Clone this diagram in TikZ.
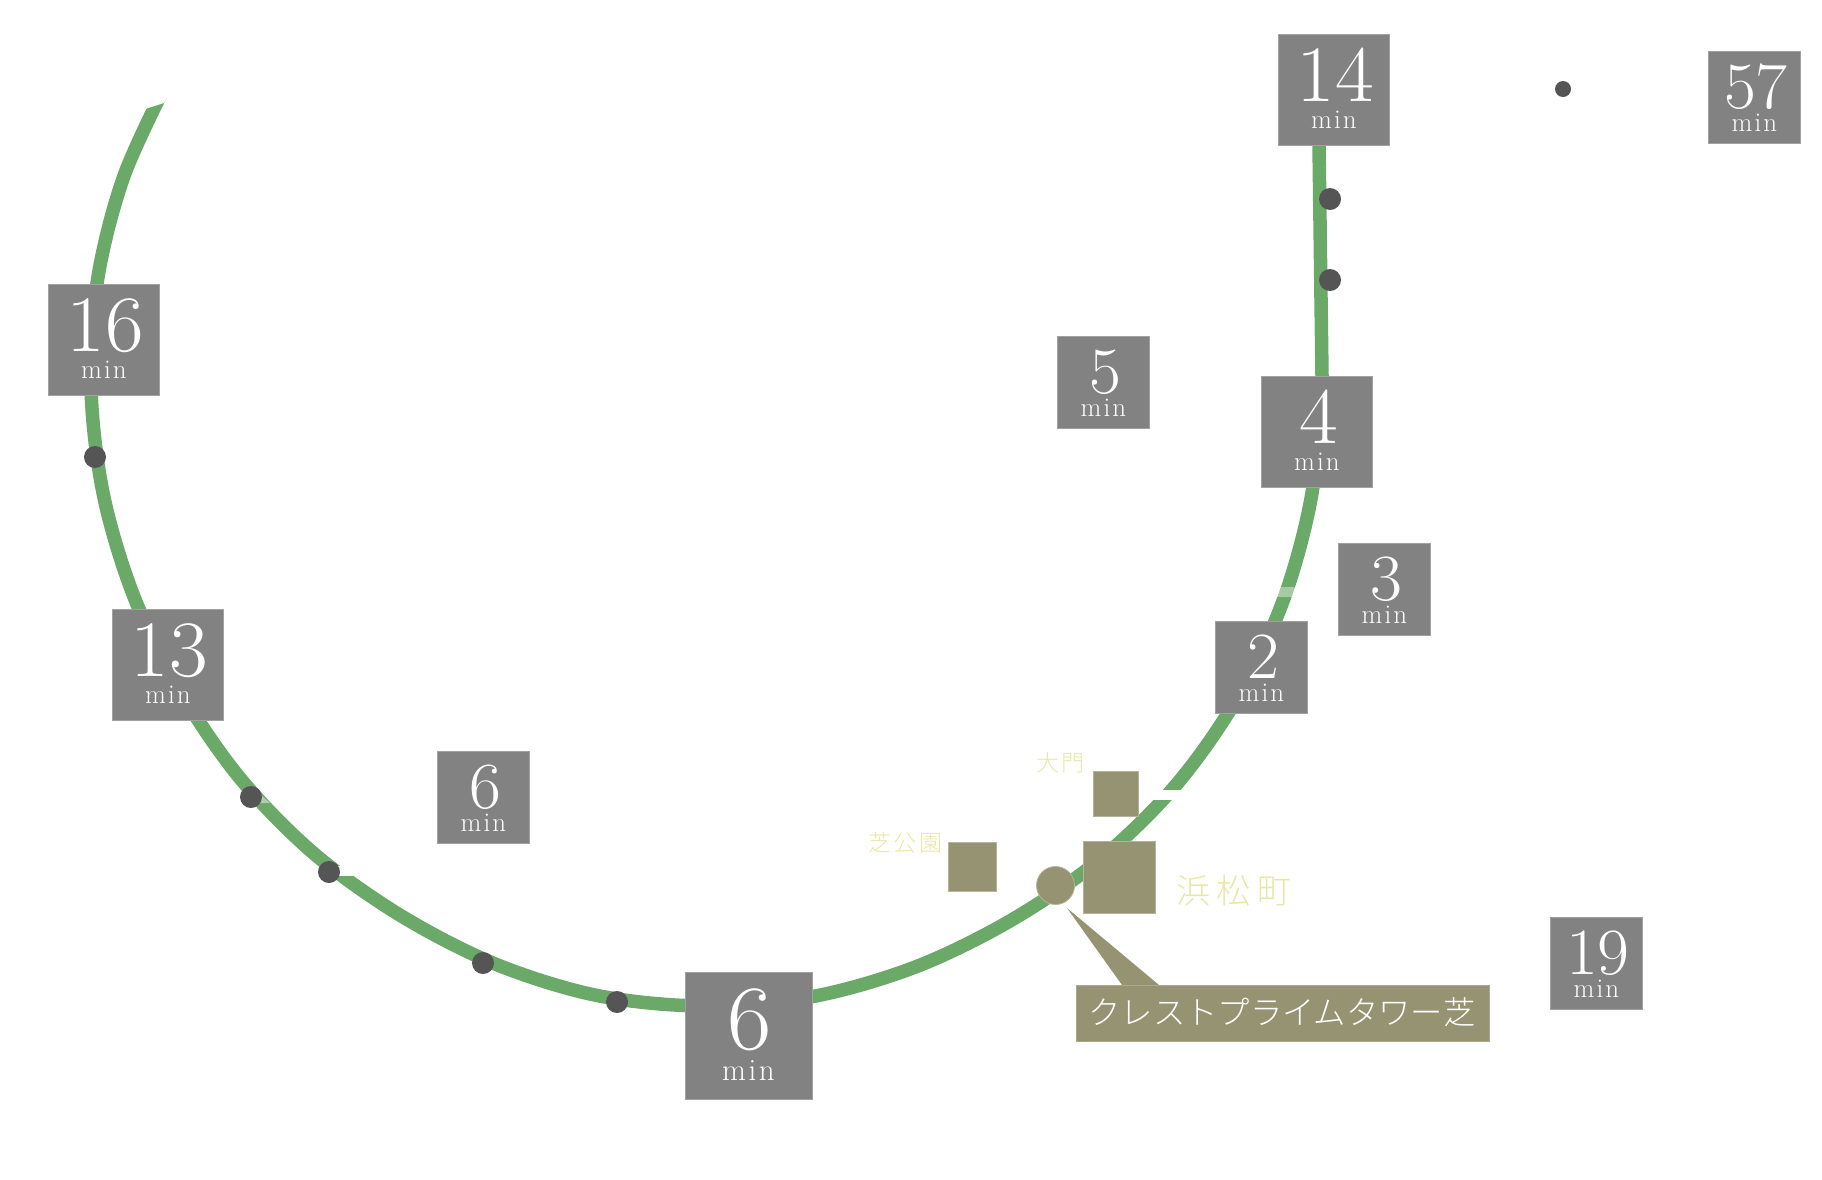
\documentclass[tikz,border=0pt]{standalone}
\usepackage{fontspec}
\setmainfont{Latin Modern Roman}
\newfontfamily\cjk{Noto Sans CJK JP Light}
\usetikzlibrary{calc}
\definecolor{linegreen}{HTML}{6AA968}
\definecolor{boxgrey}{HTML}{828282}
\definecolor{dotgrey}{HTML}{555555}
\definecolor{tan}{HTML}{959372}
\definecolor{paleyellow}{HTML}{E9E7A5}
\tikzset{
  railline/.style={draw=linegreen,line width=13.5pt},
  timebox/.style={fill=boxgrey,draw=boxgrey!75!white,line width=0.8pt,inner sep=0pt,anchor=north west,rectangle,text=white},
  stationbox/.style={fill=tan,draw=tan!70!white,line width=0.8pt,rectangle,inner sep=0pt,anchor=north west},
  stop/.style={circle,fill=dotgrey,inner sep=0pt,minimum size=22pt},
  pale/.style={text=paleyellow,inner sep=0pt},
}
% name, left, top, size, digit font, min font, text
\newcommand{\timetile}[7]{%
  \ifnum#4<100 \def\tilef{0.617}\def\tileg{0.25}\else \def\tilef{0.608}\def\tileg{0.24}\fi
  \pgfmathsetlengthmacro{\tileh}{\tilef*#4}%
  \pgfmathsetlengthmacro{\tiled}{#4-\tilef*#4}%
  \pgfmathsetlengthmacro{\tilem}{-\tileg*#4}%
  \node[timebox,minimum size=#4pt,text height=\tileh,text depth=\tiled] (#1) at (#2,#3) {%
    \makebox[0pt]{\hspace{3pt}\fontsize{#5}{#5}\selectfont\addfontfeature{FakeStretch=1.05}#7}%
    \makebox[0pt]{\raisebox{\tilem}{\fontsize{#6}{#6}\selectfont\addfontfeature{LetterSpace=8}min}}};
}
\begin{document}
\begin{tikzpicture}[x=1pt,y=-1pt]
\useasboundingbox (0,0) rectangle (1822,1179);
% track, traced about the arc's centre
\begin{scope}[shift={(705,388)}]
\draw[railline] plot[smooth,tension=0.55] coordinates {(210:619)(200:618.5)(190:617)(180:614)(170:611)(160:608)(150:606)(140:607)(130:608)(120:609)(110:613)(100:617)(90:618)(80:618)(70:616)(60:614)(50:615)(40:616)(30:616)(20:616)(10:616)(0:616)};
\end{scope}
\coordinate (b0) at (1319,145);
\coordinate (b1) at (1322,376);
\draw[railline] (b0) -- (b1);
% cuts in the track
\fill[white] (145,109) -- (164,103) -- (190,60) -- (120,60) -- cycle;
\fill[white] (1150,790) rectangle (1185,800);
\fill[white,opacity=0.4] (1270,587) rectangle (1300,597);
\fill[white,opacity=0.45] (261,795) -- (270,803) -- (258,803) -- cycle;
\fill[white] (336,866) rectangle (353,876);
% stops
\node[stop] (s1) at (1330,199) {};
\node[stop] (s2) at (1330,280) {};
\node[stop,minimum size=16pt] (s3) at (1563,89) {};
\node[stop] (s4) at (95,457) {};
\node[stop] (s5) at (251,797) {};
\node[stop] (s6) at (329,872) {};
\node[stop] (s7) at (483,963) {};
\node[stop] (s8) at (617,1002) {};
% time tiles
\timetile{t14}{1278}{34}{111}{80}{27}{14}
\timetile{t57}{1708}{51}{92}{66}{27}{57}
\timetile{t5}{1057}{336}{92}{66}{27}{5}
\timetile{t4}{1261}{375.5}{111}{80}{27}{4}
\timetile{t3}{1338}{543}{92}{66}{27}{3}
\timetile{t2}{1215}{621}{92}{66}{27}{2}
\timetile{t6a}{437}{751}{92}{66}{27}{6}
\timetile{t6b}{684.5}{972}{127}{92}{31}{6}
\timetile{t13}{112}{609}{111}{80}{27}{13}
\timetile{t16}{48}{284}{111}{80}{27}{16}
\timetile{t19}{1550}{917}{92}{66}{27}{19}
% stations
\node[stationbox,minimum size=72pt] (hama) at (1083,840.5) {};
\node[stationbox,minimum size=45pt] (daimon) at (1093,770.5) {};
\node[stationbox,minimum size=48.5pt] (shiba) at (947.5,842) {};
\node[circle,fill=tan,draw=tan!70!white,line width=0.8pt,minimum size=38pt,inner sep=0pt] (home) at (1055.5,885.5) {};
\node[pale,font=\cjk\fontsize{34}{34}\selectfont\addfontfeature{LetterSpace=20},anchor=west] (hamat) at (1176,891) {浜松町};
\node[pale,font=\cjk\fontsize{23}{23}\selectfont\addfontfeature{LetterSpace=12},anchor=west] (dait) at (1036,763) {大門};
\node[pale,font=\cjk\fontsize{23}{23}\selectfont\addfontfeature{LetterSpace=12},anchor=west] (shibat) at (868,843) {芝公園};
% callout
\coordinate (tip) at (1067,908);
\coordinate (tl) at (1122,985);
\coordinate (tr) at (1159,985);
\fill[tan] (tip) -- (tl) -- (tr) -- cycle;
\node[fill=tan,draw=tan!80!white,line width=0.8pt,rectangle,inner sep=0pt,anchor=north west,minimum width=413pt,minimum height=56pt] (call) at (1076,984.5) {};
\node[text=white,inner sep=0pt,font=\cjk\fontsize{32.3}{32.3}\selectfont] (callt) at (1282,1012) {クレストプライムタワー芝};
\end{tikzpicture}
\end{document}
